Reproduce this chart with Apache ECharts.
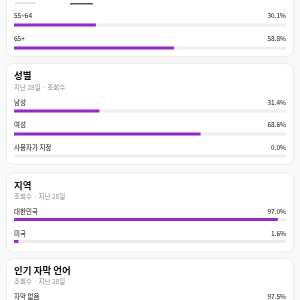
<!DOCTYPE html>
<html><head><meta charset="utf-8">
<script src="https://cdn.jsdelivr.net/npm/echarts@6/dist/echarts.min.js"></script>
<style>html,body{margin:0;padding:0;background:#f8f8f8;}#c{width:300px;height:300px;}</style>
</head><body><div id="c"></div>
<script>
// Card 1 (age, partially visible)
const ageCategories = ['55~64', '65+'];
const ageValues = [30.1, 58.8];
// Card 2: gender
const genderTitle = '성별';
const genderSubtitle = '지난 28일 · 조회수';
const genderCategories = ['남성', '여성', '사용자가 지정'];
const genderValues = [31.4, 68.6, 0.0];
// Card 3: geography
const geoTitle = '지역';
const geoSubtitle = '조회수 · 지난 28일';
const geoCategories = ['대한민국', '미국'];
const geoValues = [97.0, 1.6];
// Card 4: subtitles language
const subTitle = '인기 자막 언어';
const subSubtitle = '조회수 · 지난 28일';
const subCategories = ['자막 없음'];
const subValues = [97.5];

const FONT = '"Noto Sans CJK KR", "Noto Sans", sans-serif';
const PURPLE = '#9629c9';
const TRACK = '#eeeeee';
const L = 14, R = 286;

// layout: rows with label-center y and bar-center y
const sections = [
  {cats: ageCategories, vals: ageValues, rows: [[16, 25], [39, 48]]},
  {cats: genderCategories, vals: genderValues, rows: [[103, 111], [125, 134], [148, 156]]},
  {cats: geoCategories, vals: geoValues, rows: [[211.5, 219.5], [234, 241.5]]},
  {cats: subCategories, vals: subValues, rows: [[296.5, 305]]}
];
const cards = [
  {y: -20, h: 76},
  {y: 63, h: 101, title: genderTitle, sub: genderSubtitle, ty: 75.5, sy: 88},
  {y: 172.5, h: 79, title: geoTitle, sub: geoSubtitle, ty: 185, sy: 196.5},
  {y: 258, h: 80, title: subTitle, sub: subSubtitle, ty: 270.5, sy: 282}
];

const grids = [], xAxes = [], yAxes = [], series = [], graphics = [];
// cards
cards.forEach(c => {
  graphics.push({type: 'rect', shape: {x: 6.5, y: c.y + 0.5, width: 287, height: c.h, r: 7},
    style: {fill: '#ffffff', stroke: '#ebebeb', lineWidth: 1}, z: 0});
  if (c.title) {
    graphics.push({type: 'text', x: L, y: c.ty, z: 5,
      style: {text: c.title, font: 'bold 9.5px ' + FONT, fill: '#0f0f0f', textVerticalAlign: 'middle'}});
    graphics.push({type: 'text', x: L, y: c.sy, z: 5,
      style: {text: c.sub, font: '6.5px ' + FONT, fill: '#909090', textVerticalAlign: 'middle'}});
  }
});
// top tab marks
graphics.push({type: 'rect', shape: {x: 15, y: 2, width: 21, height: 2}, style: {fill: '#e6e0ee'}, z: 5});
graphics.push({type: 'rect', shape: {x: 70, y: 3, width: 23, height: 1.5}, style: {fill: '#555555'}, z: 5});

let gi = 0;
sections.forEach(sec => {
  sec.cats.forEach((cat, i) => {
    const [ly, by] = sec.rows[i];
    grids.push({left: L, width: R - L, top: by - 1.5, height: 3, containLabel: false});
    xAxes.push({type: 'value', gridIndex: gi, min: 0, max: 100, show: false});
    yAxes.push({type: 'category', gridIndex: gi, data: [cat], show: false});
    series.push({type: 'bar', xAxisIndex: gi, yAxisIndex: gi, data: [sec.vals[i]], barWidth: 3,
      itemStyle: {color: PURPLE}, showBackground: true, backgroundStyle: {color: TRACK},
      silent: true, animation: false, z: 3});
    graphics.push({type: 'text', x: L, y: ly, z: 5,
      style: {text: cat, font: '6.5px ' + FONT, fill: '#0f0f0f', textVerticalAlign: 'middle'}});
    graphics.push({type: 'text', x: R, y: ly, z: 5,
      style: {text: sec.vals[i].toFixed(1) + '%', font: '6.5px ' + FONT, fill: '#0f0f0f',
        textAlign: 'right', textVerticalAlign: 'middle'}});
    gi++;
  });
});

const chart = echarts.init(document.getElementById('c'), null, {renderer: 'canvas'});
chart.setOption({
  backgroundColor: '#f8f8f8',
  animation: false,
  grid: grids, xAxis: xAxes, yAxis: yAxes, series: series,
  graphic: {elements: graphics}
});
</script></body></html>
